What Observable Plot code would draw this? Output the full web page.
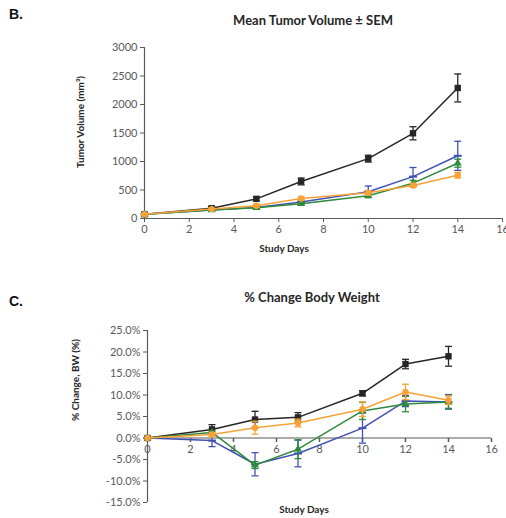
<!DOCTYPE html>
<html>
<head>
<meta charset="utf-8">
<script src="https://cdn.jsdelivr.net/npm/d3@7"></script>
<script src="https://cdn.jsdelivr.net/npm/@observablehq/plot@0.6"></script>
<style>
  html, body { margin: 0; padding: 0; background: #fff; }
  #wrap { position: relative; width: 506px; height: 518px; overflow: hidden; font-family: Lato, "Open Sans", sans-serif; }
  #wrap svg { position: absolute; left: 0; }
  .t { position: absolute; white-space: nowrap; color: #262626; font-weight: bold; }
  .panel { font-family: Arial, "Liberation Sans", sans-serif; font-size: 14px; font-weight: bold; color: #111; }
  .title { font-size: 13px; transform: translate(-50%, -50%); }
  .axl { font-size: 10px; transform: translate(-50%, -50%); }
  .yl { font-size: 10px; transform: translate(-50%, -50%) rotate(-90deg); }
</style>
</head>
<body>
<div id="wrap"></div>
<script>
// ---------- data ----------
const days = [0, 3, 5, 7, 10, 12, 14];
const seriesNames = ["Vehicle", "Group 2", "Group 3", "Group 4"];
const seriesColors = ["#262626", "#4152b3", "#2f8a3d", "#f7a237"];

// Mean tumor volume (mm³) and SEM
const tvBlack  = [75, 180, 345, 650, 1050, 1495, 2290];
const tvBlackE = [10, 30, 35, 60, 60, 115, 245];
const tvBlue   = [75, 150, 195, 290, 470, 735, 1100];
const tvBlueE  = [10, 15, 20, 30, 100, 160, 255];
const tvGreen  = [75, 150, 190, 260, 400, 620, 970];
const tvGreenE = [10, 15, 20, 25, 35, 50, 70];
const tvOrange = [75, 165, 225, 350, 450, 580, 760];
const tvOrangeE= [10, 15, 25, 30, 40, 35, 50];

// % change body weight and SEM
const bwBlack  = [0, 2.0, 4.3, 4.8, 10.4, 17.2, 19.0];
const bwBlackE = [0, 1.1, 1.9, 1.1, 0.6, 1.1, 2.3];
const bwBlue   = [0, -0.6, -6.1, -3.6, 2.3, 8.6, 8.4];
const bwBlueE  = [0, 1.4, 2.7, 3.1, 3.5, 1.3, 1.7];
const bwGreen  = [0, 1.3, -6.3, -2.6, 6.3, 7.9, 8.4];
const bwGreenE = [0, 0.4, 0.8, 2.2, 2.0, 1.8, 1.5];
const bwOrange = [0, 0.8, 2.4, 3.5, 6.7, 10.7, 8.8];
const bwOrangeE= [0, 0.5, 1.5, 0.9, 1.7, 1.8, 1.0];

const xTicks = [0, 2, 4, 6, 8, 10, 12, 14, 16];
const tvTicks = [0, 500, 1000, 1500, 2000, 2500, 3000];
const bwTicks = [-15, -10, -5, 0, 5, 10, 15, 20, 25];

// ---------- helpers ----------
function build(vals, errs) {
  const rows = [];
  seriesNames.forEach((s, i) => {
    days.forEach((d, j) => rows.push({series: s, day: d, v: vals[i][j], e: errs[i][j]}));
  });
  return rows;
}
const hline = (w) => ({draw(ctx) { ctx.moveTo(-w, 0); ctx.lineTo(w, 0); }});
const vline = (h) => ({draw(ctx) { ctx.moveTo(0, 0); ctx.lineTo(0, h); }});
const markerSym = {Vehicle: "square", "Group 2": hline(4), "Group 3": "triangle", "Group 4": "circle"};
const markerR = {Vehicle: 3.6, "Group 2": 3, "Group 3": 3, "Group 4": 3.2};

function seriesMarks(rows) {
  const marks = [];
  seriesNames.forEach((s, i) => {
    const data = rows.filter(r => r.series === s);
    const c = seriesColors[i];
    const eb = data.filter(r => r.e > 0);
    marks.push(Plot.ruleX(eb, {x: "day", y1: r => r.v - r.e, y2: r => r.v + r.e, stroke: c, strokeWidth: 1.3}));
    marks.push(Plot.dot(eb, {x: "day", y: r => r.v + r.e, symbol: hline(3.5), stroke: c, strokeWidth: 1.3, fill: "none"}));
    marks.push(Plot.dot(eb, {x: "day", y: r => r.v - r.e, symbol: hline(3.5), stroke: c, strokeWidth: 1.3, fill: "none"}));
    marks.push(Plot.line(data, {x: "day", y: "v", stroke: c, strokeWidth: 1.5}));
    if (s === "Group 2") {
      marks.push(Plot.dot(data, {x: "day", y: "v", symbol: markerSym[s], stroke: c, strokeWidth: 2, fill: "none"}));
    } else {
      marks.push(Plot.dot(data, {x: "day", y: "v", symbol: markerSym[s], r: markerR[s], fill: c, stroke: "none"}));
    }
  });
  return marks;
}

const tickFont = {fontFamily: "Lato, 'Open Sans', sans-serif", fontSize: "11px", color: "#595959", background: "transparent", overflow: "visible"};

// ---------- Panel B ----------
const tvRows = build([tvBlack, tvBlue, tvGreen, tvOrange], [tvBlackE, tvBlueE, tvGreenE, tvOrangeE]);
const plotB = Plot.plot({
  width: 506, height: 260,
  marginLeft: 144, marginRight: 4, marginTop: 47, marginBottom: 42,
  style: tickFont,
  x: {domain: [0, 16], ticks: xTicks, tickSize: 4, tickPadding: 3, label: null, tickFormat: d => String(d)},
  y: {domain: [0, 3000], ticks: tvTicks, tickSize: 4, tickPadding: 3, label: null, tickFormat: d => String(d)},
  marks: [
    Plot.ruleY([0], {stroke: "#595959", strokeWidth: 1.2}),
    Plot.ruleX([0], {stroke: "#595959", strokeWidth: 1.2}),
    ...seriesMarks(tvRows)
  ]
});
plotB.style.top = "0px";

// ---------- Panel C ----------
const bwRows = build([bwBlack, bwBlue, bwGreen, bwOrange], [bwBlackE, bwBlueE, bwGreenE, bwOrangeE]);
const plotC = Plot.plot({
  width: 506, height: 258,
  marginLeft: 147, marginRight: 15, marginTop: 70, marginBottom: 16,
  style: tickFont,
  x: {domain: [0, 16], axis: null},
  y: {domain: [-15, 25], ticks: bwTicks, tickSize: 4, tickPadding: 3, label: null, tickFormat: d => d.toFixed(1) + "%"},
  marks: [
    Plot.ruleX([0], {stroke: "#595959", strokeWidth: 1.2}),
    Plot.ruleY([0], {stroke: "#595959", strokeWidth: 1.2}),
    Plot.dot(xTicks, {x: d => d, y: d => 0, symbol: vline(4), stroke: "#595959", fill: "none"}),
    Plot.text(xTicks, {x: d => d, y: d => 0, text: d => String(d), dy: 11, fill: "#595959", fontSize: 11}),
    ...seriesMarks(bwRows)
  ]
});
plotC.style.top = "260px";

const wrap = document.getElementById("wrap");
wrap.appendChild(plotB);
wrap.appendChild(plotC);

// ---------- text ----------
function addText(cls, txt, x, y) {
  const d = document.createElement("div");
  d.className = "t " + cls;
  d.textContent = txt;
  d.style.left = x + "px";
  d.style.top = y + "px";
  wrap.appendChild(d);
}
addText("panel", "B.", 9, 6);
addText("panel", "C.", 9, 293);
addText("title", "Mean Tumor Volume ± SEM", 313, 20);
addText("title", "% Change Body Weight", 312, 297);
addText("axl", "Study Days", 284, 248);
addText("axl", "Study Days", 304, 509);
addText("yl", "Tumor Volume (mm³)", 80, 122);
addText("yl", "% Change, BW (%)", 75, 380);
</script>
</body>
</html>
